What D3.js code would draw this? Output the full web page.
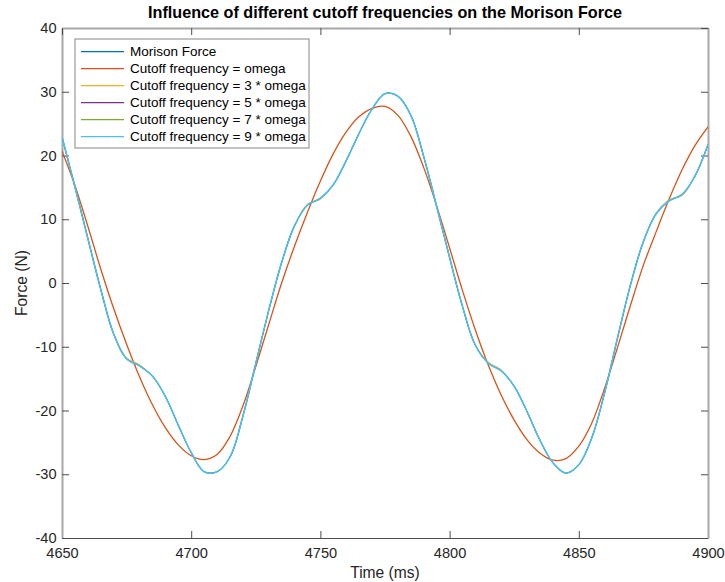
<!DOCTYPE html>
<html lang="en">
<head>
    <meta charset="UTF-8">
    <title>Morison Force cutoff</title>
    <style>
        body { margin: 0; background: #fff; }
        svg { font-family: "Liberation Sans", Arial, Helvetica, sans-serif; }
    </style>
</head>
<body>
    <script src="https://cdnjs.cloudflare.com/ajax/libs/d3/7.8.5/d3.min.js"></script>
    <script>
        // sample times (ms)
        var times = [4650, 4655, 4660, 4665, 4670, 4675, 4680, 4685, 4690, 4695,
                     4700, 4705, 4710, 4715, 4720, 4725, 4730, 4735, 4740, 4745,
                     4750, 4755, 4760, 4765, 4770, 4775, 4780, 4785, 4790, 4795,
                     4800, 4805, 4810, 4815, 4820, 4825, 4830, 4835, 4840, 4845,
                     4850, 4855, 4860, 4865, 4870, 4875, 4880, 4885, 4890, 4895, 4900];

        // Morison force (N)
        var morison = [22.9, 15.1, 7.0, -1.0, -8.0, -11.9, -13.0, -14.6, -17.8, -22.3,
                       -26.6, -29.6, -29.6, -27.3, -20.9, -12.6, -4.3, 3.2, 9.0, 12.2,
                       13.3, 15.4, 19.2, 23.5, 27.3, 29.7, 29.3, 26.3, 19.8, 12.0,
                       4.0, -3.7, -9.8, -12.6, -13.8, -16.2, -20.2, -24.7, -28.2, -29.8,
                       -28.5, -24.3, -17.2, -8.6, -0.3, 6.5, 10.9, 12.9, 13.9, 16.8, 21.7];

        // cutoff = omega
        var cut1 = [20.7, 15.3, 8.9, 2.2, -4.0, -9.6, -14.7, -19.1, -22.7, -25.4,
                    -27.1, -27.7, -26.9, -24.1, -19.3, -13.1, -6.5, 0.0, 5.8, 11.1,
                    16.0, 20.3, 23.7, 26.1, 27.4, 27.7, 26.3, 23.0, 18.1, 12.1,
                    5.5, -1.2, -7.4, -12.9, -17.6, -21.5, -24.6, -26.7, -27.8, -27.55,
                    -25.6, -22.0, -16.5, -10.1, -3.5, 2.8, 8.1, 13.2, 17.8, 21.6, 24.5];

        // cutoff = 3 * omega (only differs a little at the flat parts)
        var cut3 = [22.9, 15.1, 7.0, -1.0, -7.9, -11.7, -12.8, -14.7, -17.8, -22.3,
                    -26.6, -29.6, -29.6, -27.3, -20.9, -12.6, -4.3, 3.2, 8.9, 12.4,
                    13.1, 15.5, 19.2, 23.5, 27.3, 29.7, 29.3, 26.3, 19.8, 12.0,
                    4.0, -3.7, -9.7, -12.4, -13.6, -16.3, -20.2, -24.7, -28.2, -29.8,
                    -28.5, -24.3, -17.2, -8.6, -0.3, 6.4, 11.0, 13.1, 13.7, 16.9, 21.7];

        // cutoff = 5, 7, 9 * omega sit on top of the Morison force
        var cut5 = morison.slice();
        var cut7 = morison.slice();
        var cut9 = morison.slice();

        var seriesNames = ['Morison Force', 'Cutoff frequency = omega', 'Cutoff frequency = 3 * omega',
                           'Cutoff frequency = 5 * omega', 'Cutoff frequency = 7 * omega', 'Cutoff frequency = 9 * omega'];
        var seriesValues = [morison, cut1, cut3, cut5, cut7, cut9];
        var colors = ['#0072BD', '#D95319', '#EDB120', '#7E2F8E', '#77AC30', '#4DBEEE'];

        var xTicks = [4650, 4700, 4750, 4800, 4850, 4900];
        var yTicks = [-40, -30, -20, -10, 0, 10, 20, 30, 40];

        var margin = { top: 28, right: 17, bottom: 44, left: 62 },
            width = 725 - margin.left - margin.right,
            height = 582 - margin.top - margin.bottom;

        var x = d3.scaleLinear().domain([4650, 4900]).range([0, width]);
        var y = d3.scaleLinear().domain([-40, 40]).range([height, 0]);

        var svg = d3.select('body')
                    .append('svg')
                    .attr('width', 725)
                    .attr('height', 582)
                    .append('g')
                    .attr('transform', 'translate(' + margin.left + ',' + margin.top + ')');

        var tickFont = '14.6px';
        var plain = function (d) { return String(d); };  // no comma, plain hyphen

        // axes (ticks point inward like MATLAB)
        var gx = svg.append('g')
            .attr('transform', 'translate(0,' + height + ')')
            .call(d3.axisBottom(x).tickValues(xTicks).tickFormat(plain).tickSizeInner(-7).tickSizeOuter(0).tickPadding(10));
        var gy = svg.append('g')
            .call(d3.axisLeft(y).tickValues(yTicks).tickFormat(plain).tickSizeInner(-7).tickSizeOuter(0).tickPadding(5.5));
        var gt = svg.append('g')
            .call(d3.axisTop(x).tickValues(xTicks).tickSizeInner(-7).tickSizeOuter(0).tickFormat(''));
        var gr = svg.append('g')
            .attr('transform', 'translate(' + width + ',0)')
            .call(d3.axisRight(y).tickValues(yTicks).tickSizeInner(-7).tickSizeOuter(0).tickFormat(''));

        [gx, gy, gt, gr].forEach(function (g) {
            g.selectAll('.tick line').attr('stroke', '#4d4d4d');
            g.selectAll('.tick text').attr('fill', '#262626').style('font-size', tickFont);
        });
        gx.select('.domain').attr('stroke', '#4d4d4d').attr('stroke-width', 1.2);
        [gy, gt, gr].forEach(function (g) {
            g.select('.domain').attr('stroke', '#a8a8a8').attr('stroke-width', 2);
        });

        // lines: the ones underneath stay thin so the top cyan line covers them
        var line = d3.line()
            .x(function (d, i) { return x(times[i]); })
            .y(function (d) { return y(d); })
            .curve(d3.curveCatmullRom);

        svg.append('defs').append('clipPath').attr('id', 'clip')
            .append('rect').attr('width', width).attr('height', height);

        svg.append('g')
            .attr('clip-path', 'url(#clip)')
            .selectAll('path')
            .data(seriesValues)
            .enter()
            .append('path')
            .attr('d', line)
            .attr('fill', 'none')
            .attr('stroke', function (d, i) { return colors[i]; })
            .attr('stroke-width', function (d, i) {
                if (i === 5) return 1.6;
                if (i === 1) return 1.3;
                return 0.9;
            });

        // title
        svg.append('text')
            .attr('x', width / 2)
            .attr('y', -10)
            .attr('text-anchor', 'middle')
            .style('font-size', '16.2px')
            .style('font-weight', 'bold')
            .attr('fill', '#000')
            .text('Influence of different cutoff frequencies on the Morison Force');

        svg.append('text')  // x label
            .attr('x', width / 2)
            .attr('y', height + 40)
            .attr('text-anchor', 'middle')
            .style('font-size', '15.6px')
            .attr('fill', '#262626')
            .text('Time (ms)');

        svg.append('text')  // y label
            .attr('transform', 'rotate(-90)')
            .attr('x', -height / 2)
            .attr('y', -35)
            .attr('text-anchor', 'middle')
            .style('font-size', '15.6px')
            .attr('fill', '#262626')
            .text('Force (N)');

        // legend
        var legend = svg.append('g').attr('transform', 'translate(13,11)');
        legend.append('rect')
            .attr('width', 234)
            .attr('height', 109)
            .attr('fill', '#fff')
            .attr('stroke', '#9a9a9a')
            .attr('stroke-width', 1.2);

        var item = legend.selectAll('.legend-item')
            .data(seriesNames)
            .enter()
            .append('g')
            .attr('class', 'legend-item')
            .attr('transform', function (d, i) { return 'translate(0,' + (12.7 + i * 17) + ')'; });

        item.append('line')
            .attr('x1', 6)
            .attr('x2', 49)
            .attr('stroke', function (d, i) { return colors[i]; })
            .attr('stroke-width', 1.2);

        item.append('text')
            .attr('x', 55)
            .attr('dy', '0.35em')
            .style('font-size', '13.5px')
            .attr('fill', '#000')
            .text(function (d) { return d; });
    </script>
</body>
</html>
